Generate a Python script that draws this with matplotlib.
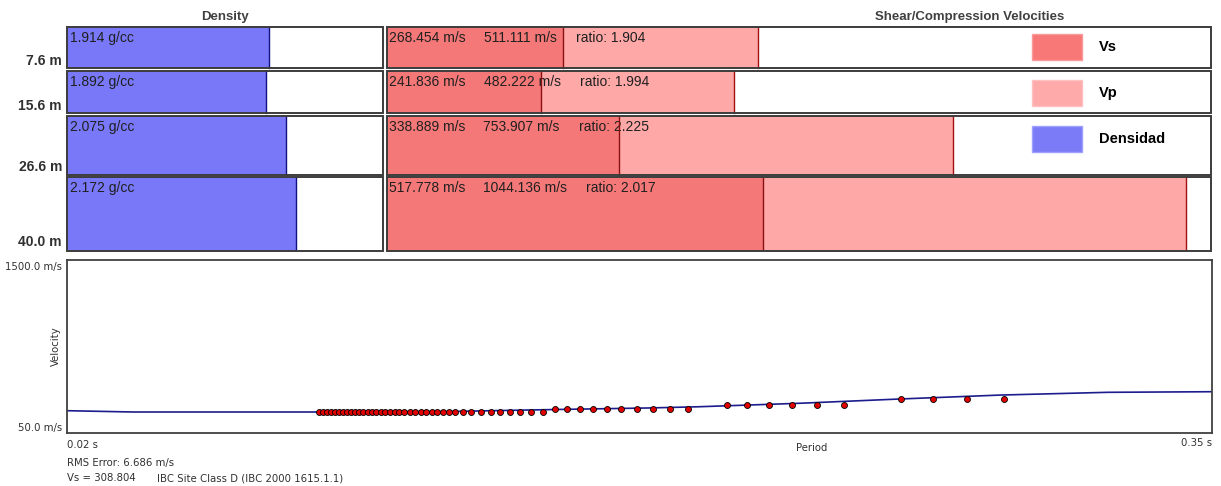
import numpy as np
import matplotlib
matplotlib.use('Agg')
import matplotlib.pyplot as plt
from matplotlib.patches import Rectangle, Patch
from matplotlib.transforms import blended_transform_factory

## Layer model
layer_depth = [7.6, 15.6, 26.6, 40.0]          # bottom of each layer (m)
density = [1.914, 1.892, 2.075, 2.172]         # g/cc
vs = [268.454, 241.836, 338.889, 517.778]      # m/s
vp = [511.111, 482.222, 753.907, 1044.136]     # m/s

## Dispersion curve: picked points and fitted curve
obs_period = [0.0927, 0.0939, 0.0950, 0.0962, 0.0973, 0.0985, 0.0996, 0.1008,
              0.1019, 0.1031, 0.1042, 0.1054, 0.1067, 0.1079, 0.1091, 0.1104,
              0.1117, 0.1131, 0.1144, 0.1158, 0.1172, 0.1189, 0.1204, 0.1219,
              0.1235, 0.1251, 0.1267, 0.1283, 0.1300, 0.1317, 0.1342, 0.1365,
              0.1392, 0.1421, 0.1448, 0.1477, 0.1506, 0.1538, 0.1571,
              0.1607, 0.1640, 0.1679, 0.1717, 0.1757, 0.1798, 0.1844, 0.1890,
              0.1938, 0.1990,
              0.2101, 0.2159, 0.2224, 0.2290, 0.2361, 0.2439,
              0.2605, 0.2697, 0.2795, 0.2901]
obs_vel = [226, 226, 226, 226, 226, 226, 226, 226,
           226, 226, 226, 226, 226, 226, 226, 226,
           226, 226, 226, 226, 226, 226, 226, 226,
           226, 226, 226, 226, 226, 226, 226, 226,
           226, 226, 226, 226, 226, 226, 226,
           252, 252, 252, 252, 252, 252, 252, 252,
           252, 252,
           285, 285, 285, 285, 285, 285,
           331, 331, 331, 331]
curve_period = [0.020, 0.039, 0.093, 0.130, 0.161, 0.188, 0.202, 0.231, 0.260, 0.289, 0.320, 0.350]
curve_vel = [237, 226, 226, 230, 247, 260, 270, 299, 335, 368, 391, 396]

rms_error = 6.686
vs30 = 308.804

## Colours / fonts
c_dens = '#7878f8'
c_vs = '#f57878'
c_vp = '#ffa8a8'
c_box = '#3c3c3c'
sans = 'Liberation Sans'
small = 'DejaVu Sans'

W, H = 1221, 486
fig = plt.figure(figsize=(W / 100, H / 100), dpi=100)


def rect_px(x0, y0, x1, y1):
    return [x0 / W, 1 - y1 / H, (x1 - x0) / W, (y1 - y0) / H]


def fig_text(x, y, s, **kw):
    fig.text(x / W, 1 - y / H, s, **kw)


ax_d = fig.add_axes(rect_px(67, 27, 383, 251))
ax_v = fig.add_axes(rect_px(387, 27, 1211, 251))
ax_c = fig.add_axes(rect_px(67, 260, 1212, 433))

ax_d.set_xlim(0, 3.0)
ax_v.set_xlim(50, 1075)
for ax in (ax_d, ax_v):
    ax.set_ylim(40, 0)
    ax.axis('off')

txt = dict(fontsize=10, family=sans, color='#202020', zorder=3)
gap = 0.22
tops = [0] + layer_depth[:-1]
for i in range(len(layer_depth)):
    top = tops[i] + (gap if i > 0 else 0)
    bot = layer_depth[i] - (gap if i < len(layer_depth) - 1 else 0)
    h = bot - top

    # density column
    ax_d.add_patch(Rectangle((0, top), 3.0, h, fc='white', ec='none', zorder=1))
    ax_d.add_patch(Rectangle((0, top), density[i], h, fc=c_dens, ec='none', zorder=2))
    ax_d.plot([density[i], density[i]], [top, bot], color='#101080', lw=1.0, zorder=4)
    ax_d.add_patch(Rectangle((0, top), 3.0, h, fc='none', ec=c_box, lw=1.4,
                             zorder=5, clip_on=False))
    ax_d.annotate(f'{density[i]:.3f} g/cc', xy=(0, top), xytext=(3, -4),
                  textcoords='offset pixels', ha='left', va='top', **txt)

    # velocity column
    ax_v.add_patch(Rectangle((50, top), 1025, h, fc='white', ec='none', zorder=1))
    ax_v.add_patch(Rectangle((50, top), vp[i] - 50, h, fc=c_vp, ec='none', zorder=2))
    ax_v.add_patch(Rectangle((50, top), vs[i] - 50, h, fc=c_vs, ec='none', zorder=2))
    ax_v.plot([vs[i], vs[i]], [top, bot], color='#8b1010', lw=1.0, zorder=4)
    ax_v.plot([vp[i], vp[i]], [top, bot], color='#a01010', lw=1.0, zorder=4)
    ax_v.add_patch(Rectangle((50, top), 1025, h, fc='none', ec=c_box, lw=1.4,
                             zorder=5, clip_on=False))
    t1 = ax_v.annotate(f'{vs[i]:.3f} m/s', xy=(50, top), xytext=(2, -4),
                       textcoords='offset pixels', ha='left', va='top', **txt)
    t2 = ax_v.annotate(f'{vp[i]:.3f} m/s', xy=(1, 0), xycoords=t1, xytext=(18, 0),
                       textcoords='offset pixels', ha='left', va='bottom', **txt)
    ax_v.annotate(f'ratio: {vp[i] / vs[i]:.3f}', xy=(1, 0), xycoords=t2, xytext=(19, 0),
                  textcoords='offset pixels', ha='left', va='bottom', **txt)

    # depth label at the layer bottom
    trans = blended_transform_factory(ax_d.transAxes, ax_d.transData)
    ax_d.text(-0.016, layer_depth[i] - 0.3, f'{layer_depth[i]:.1f} m', transform=trans,
              ha='right', va='bottom', fontsize=10, fontweight='bold', family=sans,
              color='#303030', clip_on=False)

fig_text(225, 17, 'Density', ha='center', va='center', fontsize=9.5,
         fontweight='bold', family=sans, color='#404040')
fig_text(970, 17, 'Shear/Compression Velocities', ha='center', va='center',
         fontsize=9.5, fontweight='bold', family=sans, color='#404040')

# legend: handle box height = fs * (0.65 * handleheight + 0.245)
fs_leg = 10.5 * 100 / 72
hh = (26 / fs_leg - 0.245) / 0.65
handles = [Patch(fc='#f87878', ec='#fa9a9a', label='Vs'),
           Patch(fc='#ffaaaa', ec='#ffc0c0', label='Vp'),
           Patch(fc='#7b7bf7', ec='#a0a0ff', label='Densidad')]
ax_v.legend(handles=handles, loc='upper left', bbox_to_anchor=(1032 / W, 1 - 34 / H),
            bbox_transform=fig.transFigure, frameon=False, borderpad=0,
            borderaxespad=0, handlelength=50 / fs_leg, handleheight=hh,
            labelspacing=20 / fs_leg, handletextpad=17 / fs_leg,
            prop={'family': sans, 'weight': 'bold', 'size': 10.5})

## Dispersion plot
ax_c.plot(curve_period, curve_vel, color='#1c1c8c', lw=1.2, zorder=2)
ax_c.plot(obs_period, obs_vel, 'o', mfc='#e00000', mec='black', ms=4.3, mew=0.6, zorder=3)
ax_c.set_xlim(0.02, 0.35)
ax_c.set_ylim(50, 1500)
ax_c.set_xticks([])
ax_c.set_yticks([])
for sp in ax_c.spines.values():
    sp.set_color('#404040')
    sp.set_linewidth(1.3)

kw = dict(fontsize=7.3, family=small, color='#303030')
fig_text(62, 267, '1500.0 m/s', ha='right', va='center', **kw)
fig_text(62, 428, '50.0 m/s', ha='right', va='center', **kw)
fig_text(56, 346, 'Velocity', ha='center', va='center', rotation=90, **kw)
fig_text(67, 445, '0.02 s', ha='left', va='center', **kw)
fig_text(1212, 443, '0.35 s', ha='right', va='center', **kw)
fig_text(812, 448, 'Period', ha='center', va='center', **kw)
fig_text(67, 463, f'RMS Error: {rms_error:.3f} m/s', ha='left', va='center', **kw)
fig_text(67, 478, f'Vs = {vs30:.3f}', ha='left', va='center', **kw)
fig_text(157, 478, 'IBC Site Class D (IBC 2000 1615.1.1)', ha='left', va='center', **kw)

fig.savefig('out.png', dpi=100, facecolor='white')
